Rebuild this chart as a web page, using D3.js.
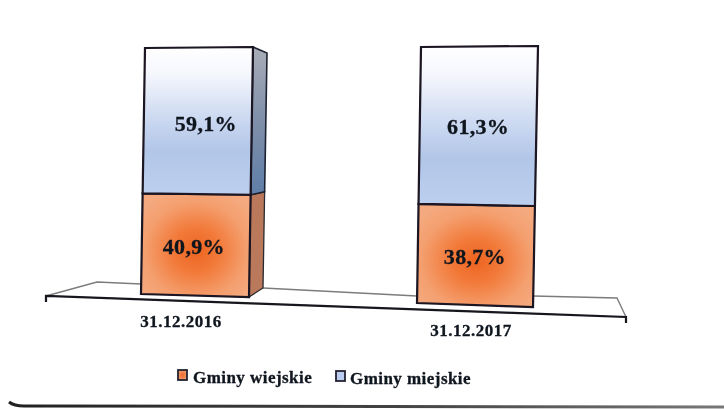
<!DOCTYPE html>
<html><head><meta charset="utf-8">
<script src="https://cdn.jsdelivr.net/npm/d3@7"></script>
<style>html,body{margin:0;padding:0;background:#fff;overflow:hidden}svg{display:block}
text{font-family:"Liberation Serif",serif;font-weight:700;fill:#11151f;stroke:#11151f;stroke-width:.3}</style>
</head><body><svg id="c" width="724" height="409"></svg>
<script>
const categories = ["31.12.2016", "31.12.2017"];
const seriesNames = ["Gminy wiejskie", "Gminy miejskie"];
const wiejskie = [40.9, 38.7];
const miejskie = [59.1, 61.3];
const valueLabels = [["40,9%", "38,7%"], ["59,1%", "61,3%"]];

// scan-like perspective of each column: [bottom, top] of the left and right edges
const edgeX = [[[141, 145], [249, 253]], [[417, 421], [533, 538]]];
const edgeY = [[[294, 48], [297, 47]], [[303, 47], [307, 46]]];
const tickLabelPos = [[181, 327], [471, 336]];
// nudges of value labels [series][category]
const labelNudge = [[[-3, 1], [-2, 1]], [[7, 2], [-1, 0]]];

const svg = d3.select("#c");
const defs = svg.append("defs");
const blur = defs.append("filter").attr("id", "scan").attr("x", "-5%").attr("y", "-5%").attr("width", "110%").attr("height", "110%");
blur.append("feGaussianBlur").attr("stdDeviation", 0.55);

function linear(id, stops) {
  const g = defs.append("linearGradient").attr("id", id).attr("x1", 0).attr("y1", 0).attr("x2", 0).attr("y2", 1);
  stops.forEach(s => g.append("stop").attr("offset", s[0]).attr("stop-color", s[1]));
}
linear("blue", [[0, "#ffffff"], [0.18, "#f6f7fd"], [0.45, "#d0dcf2"], [0.7, "#b2c6e8"], [1, "#bccfee"]]);
linear("blueSide", [[0, "#a9adb8"], [0.5, "#7f8fa9"], [1, "#5f7ea8"]]);
const rad = defs.append("radialGradient").attr("id", "orange").attr("cx", 0.5).attr("cy", 0.55).attr("r", 0.62);
[[0, "#ee6420"], [0.35, "#f27a3a"], [0.75, "#f49f6f"], [1, "#f5a97e"]].forEach(s => rad.append("stop").attr("offset", s[0]).attr("stop-color", s[1]));
const rad2 = defs.append("radialGradient").attr("id", "orangeKey");
[[0, "#f0682a"], [1, "#f49a68"]].forEach(s => rad2.append("stop").attr("offset", s[0]).attr("stop-color", s[1]));

const root = svg.append("g").attr("filter", "url(#scan)");

const value = d3.scaleLinear().domain([0, 100]);
const scales = categories.map((_, i) => ({
  xL: value.copy().range(edgeX[i][0]), yL: value.copy().range(edgeY[i][0]),
  xR: value.copy().range(edgeX[i][1]), yR: value.copy().range(edgeY[i][1])
}));

// floor of the 3-D plot
const floorLine = d3.line();
const floorBack = [[[46, 296], [97, 282], [141, 284]], [[263, 288], [417, 296]], [[533, 296], [617, 298], [626, 317]]];
floorBack.forEach(p => root.append("path").attr("d", floorLine(p)).attr("fill", "none").attr("stroke", "#7c7c7c").attr("stroke-width", 1.4));

const rows = categories.map((c, i) => ({ c, wiejskie: wiejskie[i], miejskie: miejskie[i] }));
const stacked = d3.stack().keys(["wiejskie", "miejskie"])(rows);
const fills = ["url(#orange)", "url(#blue)"];

// side face of first column
const s0 = scales[0];
const sideDx = 14, sideDy = -9, sideTopDy = 6;
function sidePts(v0, v1) {
  const t = v => sideDy + (sideTopDy - sideDy) * v / 100;
  return [[s0.xR(v0), s0.yR(v0)], [s0.xR(v1), s0.yR(v1)], [s0.xR(v1) + sideDx, s0.yR(v1) + t(v1)], [s0.xR(v0) + sideDx, s0.yR(v0) + t(v0)]];
}
const poly = p => "M" + p.map(q => q.join(",")).join("L") + "Z";
root.append("path").attr("d", poly(sidePts(0, wiejskie[0]))).attr("fill", "#b9795a").attr("stroke", "#2a2a30").attr("stroke-width", 1.3);
root.append("path").attr("d", poly(sidePts(wiejskie[0], 100))).attr("fill", "url(#blueSide)").attr("stroke", "#1d2230").attr("stroke-width", 1.6);

stacked.forEach((layer, k) => {
  root.append("g").selectAll("path").data(layer).join("path")
    .attr("d", (d, i) => {
      const s = scales[i];
      return poly([[s.xL(d[0]), s.yL(d[0])], [s.xL(d[1]), s.yL(d[1])], [s.xR(d[1]), s.yR(d[1])], [s.xR(d[0]), s.yR(d[0])]]);
    })
    .attr("fill", fills[k]).attr("stroke", "#1a1320").attr("stroke-width", 2.2).attr("stroke-linejoin", "miter");
  root.append("g").selectAll("text").data(layer).join("text")
    .attr("x", (d, i) => { const s = scales[i], m = (d[0] + d[1]) / 2; return (s.xL(m) + s.xR(m)) / 2 + 1 + labelNudge[k][i][0]; })
    .attr("y", (d, i) => { const s = scales[i], m = (d[0] + d[1]) / 2; return (s.yL(m) + s.yR(m)) / 2 + 8 + labelNudge[k][i][1]; })
    .attr("text-anchor", "middle").attr("font-size", 22).attr("letter-spacing", 0.3)
    .text((d, i) => valueLabels[k][i]);
});

// front edge of the floor with end ticks
root.append("path").attr("d", floorLine([[46, 302], [46, 296], [626, 317], [626, 323]])).attr("fill", "none").attr("stroke", "#14141c").attr("stroke-width", 2.2);

root.append("g").selectAll("text").data(categories).join("text")
  .attr("x", (d, i) => tickLabelPos[i][0]).attr("y", (d, i) => tickLabelPos[i][1])
  .attr("text-anchor", "middle").attr("font-size", 17).attr("letter-spacing", 0.5).text(d => d);

// legend
const legendPos = [[178, 193, 383], [336, 350, 384]];
const legend = root.append("g").selectAll("g").data(seriesNames).join("g");
legend.append("rect").attr("x", (d, i) => legendPos[i][0]).attr("y", (d, i) => legendPos[i][2] - 13).attr("width", 9).attr("height", 10)
  .attr("fill", (d, i) => i ? "#bcccee" : "url(#orangeKey)").attr("stroke", "#222230").attr("stroke-width", 1.8);
legend.append("text").attr("x", (d, i) => legendPos[i][1]).attr("y", (d, i) => legendPos[i][2])
  .attr("font-size", 17).attr("letter-spacing", 0.45).text(d => d);

// dark scanned frame at the bottom
const frame = defs.append("linearGradient").attr("id", "frame").attr("x1", 0).attr("x2", 1).attr("y1", 0).attr("y2", 0);
[[0, "#222"], [0.55, "#444"], [1, "#777"]].forEach(s => frame.append("stop").attr("offset", s[0]).attr("stop-color", s[1]));
root.append("path").attr("d", "M9,402 Q14,406 24,406 L724,407").attr("fill", "none").attr("stroke", "url(#frame)").attr("stroke-width", 3);
</script></body></html>
